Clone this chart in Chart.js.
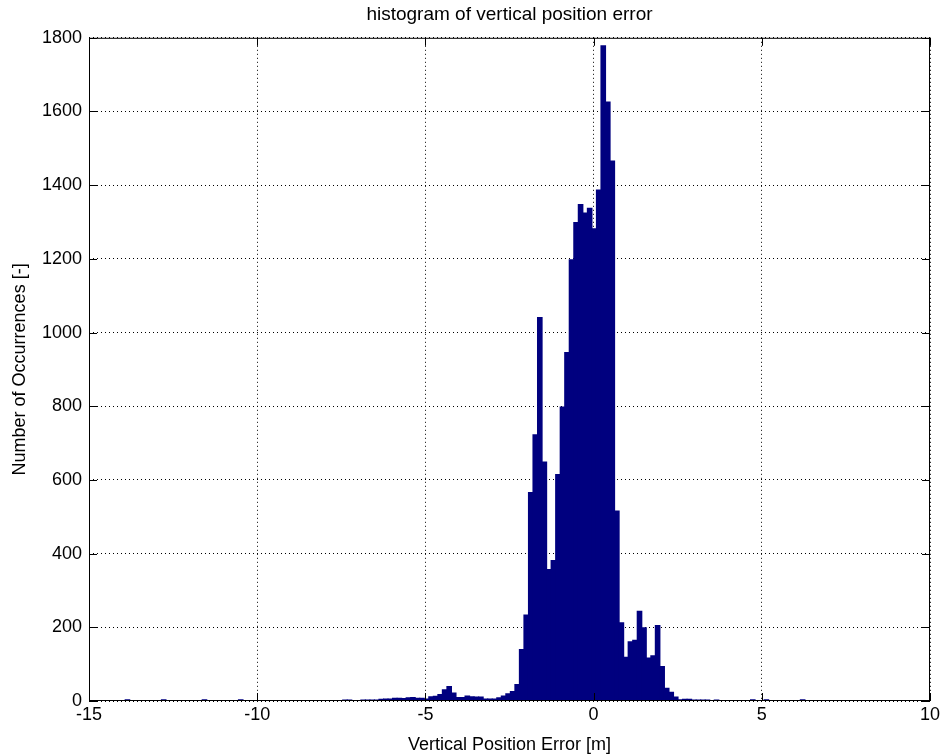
<!DOCTYPE html>
<html>
<head>
<meta charset="utf-8">
<script src="https://cdn.jsdelivr.net/npm/chart.js@4.4.1/dist/chart.umd.min.js"></script>
<style>
  html, body { margin: 0; padding: 0; background: #fff; }
  #wrap { width: 946px; height: 756px; }
</style>
</head>
<body>
<div id="wrap"><canvas id="hist" width="946" height="756"></canvas></div>
<script>
// bin centres [m] (only bins with visible counts)
const binCenters = [
    -13.857, -12.779, -11.567, -10.489,
    -7.391, -7.256, -7.121, -6.987, -6.852, -6.717, -6.582, -6.448, -6.313, -6.178,
    -6.044, -5.909, -5.774, -5.640, -5.505, -5.370, -5.236, -5.101, -4.966, -4.832,
    -4.697, -4.562, -4.428, -4.293, -4.158, -4.023, -3.889, -3.754, -3.619, -3.485,
    -3.350, -3.215, -3.081, -2.946, -2.811, -2.676, -2.542, -2.407, -2.272, -2.138,
    -2.003, -1.868, -1.734, -1.599, -1.464, -1.329, -1.195, -1.060, -0.925, -0.791,
    -0.656, -0.521, -0.387, -0.252, -0.117, 0.018, 0.152, 0.287, 0.422, 0.556,
    0.691, 0.826, 0.961, 1.095, 1.230, 1.365, 1.499, 1.634, 1.769, 1.903,
    2.038, 2.173, 2.308, 2.442, 2.577, 2.712, 2.846, 2.981, 3.116, 3.250,
    3.385, 3.520, 3.655,
    4.732, 5.136, 6.214
];

const counts = [
    5, 5, 5, 5,
    4, 4, 0, 0, 4, 4, 4, 4, 6, 7,
    7, 9, 9, 8, 10, 11, 9, 9, 7, 13,
    14, 19, 32, 41, 23, 11, 11, 15, 13, 12,
    12, 7, 7, 7, 10, 15, 21, 27, 46, 141,
    235, 567, 724, 1042, 650, 358, 383, 616, 799, 947,
    1199, 1300, 1349, 1326, 1339, 1283, 1388, 1780, 1627, 1467,
    517, 214, 120, 162, 166, 245, 200, 118, 124, 206,
    95, 36, 25, 12, 5, 6, 6, 4, 4, 4,
    4, 0, 4,
    5, 5, 5
];

const xTicks = [-15, -10, -5, 0, 5, 10];
const yTicks = [0, 200, 400, 600, 800, 1000, 1200, 1400, 1600, 1800];

const FONT = '"Liberation Sans", Arial, sans-serif';

// MATLAB style box with inward tick marks on all four sides
const boxPlugin = {
    id: 'matlabBox',
    afterDraw(chart) {
        const { ctx, chartArea: a, scales } = chart;
        ctx.save();
        ctx.strokeStyle = '#000';
        ctx.lineWidth = 1;
        ctx.setLineDash([]);
        ctx.strokeRect(a.left + 0.5, a.top + 0.5, a.right - a.left - 1, a.bottom - a.top - 1);
        const len = 8;
        ctx.beginPath();
        xTicks.forEach(v => {
            const px = Math.round(scales.x.getPixelForValue(v)) + 0.5;
            ctx.moveTo(px, a.bottom);
            ctx.lineTo(px, a.bottom - len);
            ctx.moveTo(px, a.top);
            ctx.lineTo(px, a.top + len);
        });
        yTicks.forEach(v => {
            const py = Math.round(scales.y.getPixelForValue(v)) + 0.5;
            ctx.moveTo(a.left, py);
            ctx.lineTo(a.left + len, py);
            ctx.moveTo(a.right, py);
            ctx.lineTo(a.right - len, py);
        });
        ctx.stroke();
        ctx.restore();
    }
};

const data = binCenters.map((c, i) => ({ x: c, y: counts[i] }));

new Chart(document.getElementById('hist').getContext('2d'), {
    type: 'bar',
    data: {
        datasets: [{
            data: data,
            backgroundColor: '#00007f',
            borderWidth: 0,
            barPercentage: 1.25,
            categoryPercentage: 1.0
        }]
    },
    options: {
        responsive: false,
        animation: false,
        layout: { padding: { left: 0, right: 16, top: 0, bottom: 0 } },
        scales: {
            x: {
                type: 'linear',
                min: -15,
                max: 10,
                offset: false,
                afterBuildTicks: s => { s.ticks = xTicks.map(v => ({ value: v })); },
                afterFit: s => { s.height = 55; },
                grid: { color: '#000', lineWidth: 1, drawTicks: false, offset: false },
                border: { display: false, dash: [1, 3] },
                ticks: { color: '#000', padding: 3, maxRotation: 0, font: { family: FONT, size: 18 },
                    callback: v => String(v) },
                title: {
                    display: true,
                    text: 'Vertical Position Error [m]',
                    color: '#000',
                    padding: { top: 0, bottom: 0 },
                    font: { family: FONT, size: 18 }
                }
            },
            y: {
                min: 0,
                max: 1800,
                afterBuildTicks: s => { s.ticks = yTicks.map(v => ({ value: v })); },
                afterFit: s => { s.width = 89; },
                grid: { color: '#000', lineWidth: 1, drawTicks: false },
                border: { display: false, dash: [1, 3] },
                ticks: { color: '#000', padding: 7, font: { family: FONT, size: 18 },
                    callback: v => String(v) },
                title: {
                    display: true,
                    text: 'Number of Occurrences [-]',
                    color: '#000',
                    padding: { top: 9, bottom: 0 },
                    font: { family: FONT, size: 18 }
                }
            }
        },
        plugins: {
            legend: { display: false },
            tooltip: { enabled: false },
            title: {
                display: true,
                fullSize: false,
                text: 'histogram of vertical position error',
                color: '#000',
                padding: { top: 3.5, bottom: 11.5 },
                font: { family: FONT, size: 19, weight: 'normal' }
            }
        }
    },
    plugins: [boxPlugin]
});
</script>
</body>
</html>
